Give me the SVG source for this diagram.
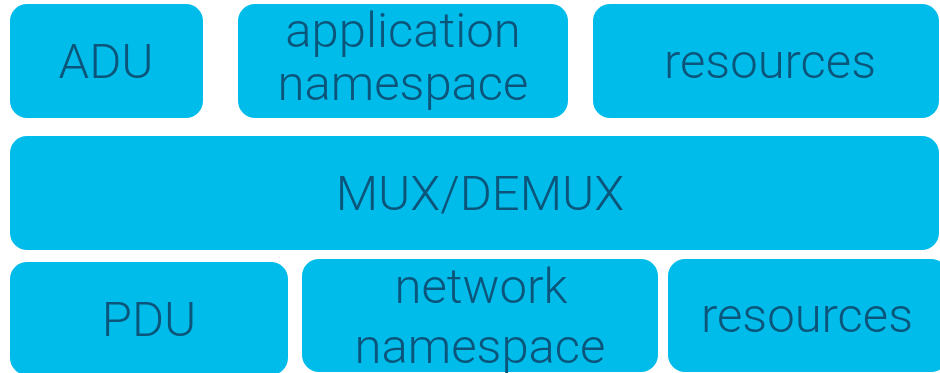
<svg xmlns="http://www.w3.org/2000/svg" width="940" height="373" viewBox="0 0 940 373">
<style>
.box{fill:#00BCEB;}
.lbl{font-family:Roboto,"Liberation Sans",Arial,sans-serif;font-weight:300;font-size:49px;fill:#0B557A;text-anchor:middle;}
</style>
<rect width="940" height="373" fill="#FFFFFF"/>
<g id="adu"><rect class="box" x="10" y="4" width="193" height="114" rx="17"/><text class="lbl" x="106" y="78">ADU</text></g>
<g id="appns"><rect class="box" x="238" y="4" width="330" height="114" rx="17"/><text class="lbl" x="403" y="47">application</text><text class="lbl" x="403" y="100">namespace</text></g>
<g id="res-top"><rect class="box" x="593" y="4" width="346" height="114" rx="17"/><text class="lbl" x="770" y="78">resources</text></g>
<g id="mux"><rect class="box" x="10" y="136" width="929" height="114" rx="17"/><text class="lbl" x="480" y="210">MUX/DEMUX</text></g>
<g id="pdu"><rect class="box" x="10" y="262" width="278" height="113" rx="17"/><text class="lbl" x="149" y="336">PDU</text></g>
<g id="netns"><rect class="box" x="302" y="259" width="356" height="113" rx="17"/><text class="lbl" x="481" y="303">network</text><text class="lbl" x="480" y="363">namespace</text></g>
<g id="res-bot"><rect class="box" x="668" y="259" width="280" height="113" rx="17"/><text class="lbl" x="807" y="332">resources</text></g>
<g id="connectors"></g>
</svg>
